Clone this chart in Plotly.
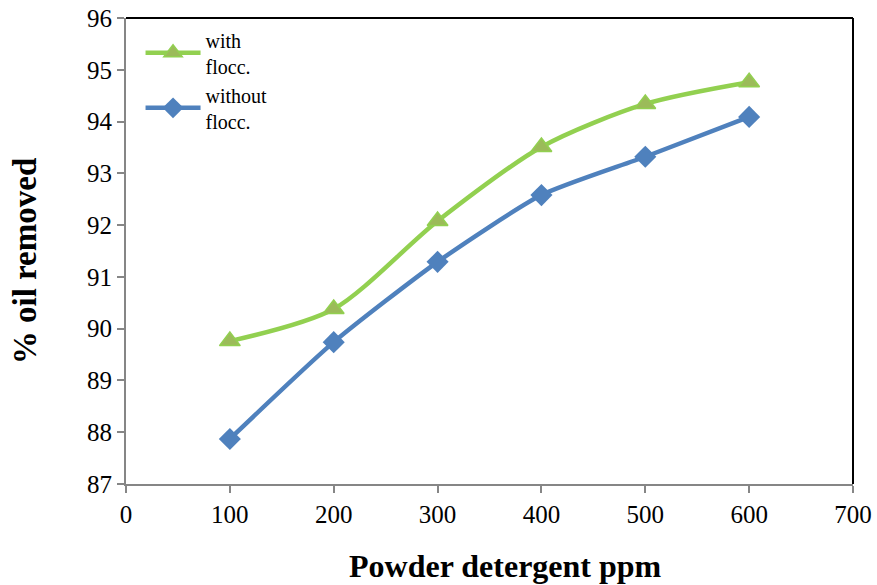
import plotly.graph_objects as go

# Powder detergent dose (ppm) and oil removal (%)
dose_ppm = [100, 200, 300, 400, 500, 600]
with_flocc = [89.76, 90.38, 92.08, 93.51, 94.34, 94.76]
without_flocc = [87.87, 89.74, 91.29, 92.58, 93.32, 94.09]
x_ticks = [0, 100, 200, 300, 400, 500, 600, 700]
y_ticks = [87, 88, 89, 90, 91, 92, 93, 94, 95, 96]

FONT = "Liberation Serif, Times New Roman, serif"

fig = go.Figure()
fig.add_trace(go.Scatter(
    x=dose_ppm, y=with_flocc, name="with<br>flocc.",
    mode="lines+markers",
    line=dict(color="#92D050", width=4.5, shape="spline", smoothing=0.8),
    marker=dict(symbol="triangle-up", size=18, color="#9BBB59",
                line=dict(color="#92D050", width=1.5)),
))
fig.add_trace(go.Scatter(
    x=dose_ppm, y=without_flocc, name="without<br>flocc.",
    mode="lines+markers",
    line=dict(color="#4F81BD", width=4.5, shape="spline", smoothing=0.6),
    marker=dict(symbol="diamond", size=17, color="#4F81BD"),
))

fig.update_layout(
    width=877, height=585,
    margin=dict(l=126, r=24, t=18, b=101, autoexpand=False),
    paper_bgcolor="white", plot_bgcolor="white",
    font=dict(family=FONT, size=25, color="black"),
    showlegend=True,
    legend=dict(x=0.02, y=0.995, xanchor="left", yanchor="top",
                font=dict(family=FONT, size=20, color="black"),
                bgcolor="rgba(0,0,0,0)", tracegroupgap=14, itemwidth=55),
    xaxis=dict(range=[0, 700], tickvals=x_ticks, showgrid=False, zeroline=False,
               showline=True, linecolor="#868686", linewidth=2,
               ticks="outside", tickcolor="#868686", ticklen=7, tickwidth=2,
               tickfont=dict(family=FONT, size=25)),
    yaxis=dict(range=[87, 96], tickvals=y_ticks, showgrid=False, zeroline=False,
               showline=True, linecolor="#868686", linewidth=2,
               ticks="outside", tickcolor="#868686", ticklen=7, tickwidth=2,
               tickfont=dict(family=FONT, size=25)),
)

# Axis titles
fig.add_annotation(text="<b>Powder detergent ppm</b>", xref="paper", yref="paper",
                   x=0.522, y=-0.176, xanchor="center", yanchor="middle",
                   showarrow=False, font=dict(family=FONT, size=32))
fig.add_annotation(text="<b>% oil removed</b>", xref="paper", yref="paper",
                   x=-0.139, y=0.48, xanchor="center", yanchor="middle",
                   textangle=-90, showarrow=False, font=dict(family=FONT, size=33))

# Black frame on the top and right edges of the plot area
fig.add_shape(type="line", xref="paper", yref="paper", x0=0, x1=1, y0=1, y1=1,
              line=dict(color="black", width=2))
fig.add_shape(type="line", xref="paper", yref="paper", x0=1, x1=1, y0=0, y1=1,
              line=dict(color="black", width=2))

fig.write_html("out.html")
